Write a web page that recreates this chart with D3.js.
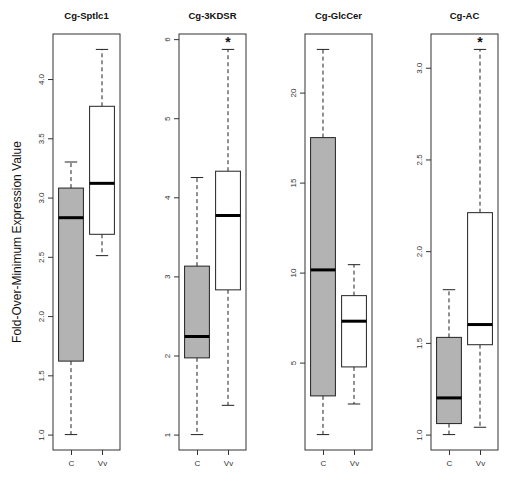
<!DOCTYPE html>
<html><head><meta charset="utf-8">
<script src="https://cdn.jsdelivr.net/npm/d3@7"></script>
<style>body{margin:0;background:#fff}</style></head>
<body>
<script>
// ---- data ----
const genes = ["Cg-Sptlc1", "Cg-3KDSR", "Cg-GlcCer", "Cg-AC"];
const groups = ["C", "Vv"];
// five-number summaries: [lower whisker, Q1, median, Q3, upper whisker]
const sptlc1C  = [1.00, 1.62, 2.83, 3.08, 3.30];
const sptlc1Vv = [2.51, 2.69, 3.12, 3.77, 4.25];
const kdsrC    = [1.00, 1.97, 2.24, 3.13, 4.25];
const kdsrVv   = [1.37, 2.83, 3.77, 4.33, 5.87];
const glcC     = [1.00, 3.15, 10.15, 17.5, 22.4];
const glcVv    = [2.70, 4.76, 7.30, 8.72, 10.44];
const acC      = [1.00, 1.06, 1.20, 1.53, 1.79];
const acVv     = [1.04, 1.49, 1.60, 2.21, 3.10];
const ticksSptlc1 = [1.0, 1.5, 2.0, 2.5, 3.0, 3.5, 4.0];
const ticksKdsr   = [1, 2, 3, 4, 5, 6];
const ticksGlc    = [5, 10, 15, 20];
const ticksAc     = [1.0, 1.5, 2.0, 2.5, 3.0];
const tickFormats = [".1f", "d", "d", ".1f"];
const significance = [["", ""], ["", "*"], ["", ""], ["", "*"]];
const yLabel = "Fold-Over-Minimum Expression Value";

const panels = [
  {gene: genes[0], stats: [sptlc1C, sptlc1Vv], ticks: ticksSptlc1},
  {gene: genes[1], stats: [kdsrC, kdsrVv], ticks: ticksKdsr},
  {gene: genes[2], stats: [glcC, glcVv], ticks: ticksGlc},
  {gene: genes[3], stats: [acC, acVv], ticks: ticksAc}
];

// ---- layout ----
const W = 514, H = 481;
const pTop = 34, pBottom = 450, pw = 67, pitch = 126, left0 = 53;
const fills = ["#b3b3b3", "#ffffff"];
const font = "Liberation Sans, Arial, sans-serif";

const svg = d3.select("body").append("svg").attr("width", W).attr("height", H)
  .style("font-family", font);

svg.append("text")
  .attr("transform", `translate(21,${(pTop + pBottom) / 2}) rotate(-90)`)
  .attr("text-anchor", "middle").attr("font-size", 12).attr("fill", "#111")
  .text(yLabel);

panels.forEach((p, i) => {
  const x0 = left0 + i * pitch;
  const lo = d3.min(p.stats, s => s[0]), hi = d3.max(p.stats, s => s[4]);
  const ext = (hi - lo) * 0.04;
  const y = d3.scaleLinear().domain([lo - ext, hi + ext]).range([pBottom, pTop]);
  const x = d3.scaleLinear().domain([0.5 - 0.08, 2.5 + 0.08]).range([x0, x0 + pw]);
  const g = svg.append("g");

  g.append("text").attr("x", x0 + pw / 2).attr("y", 19).attr("text-anchor", "middle")
    .attr("font-size", 9.5).attr("font-weight", "bold").attr("fill", "#111").text(p.gene);

  const yAxis = d3.axisLeft(y).tickValues(p.ticks).tickFormat(d3.format(tickFormats[i]))
    .tickSize(5).tickPadding(3);
  const ya = g.append("g").attr("transform", `translate(${x0},0)`).call(yAxis);
  ya.select(".domain").remove();
  ya.selectAll(".tick line").attr("stroke", "#333");
  ya.selectAll(".tick text").attr("font-size", 8).attr("fill", "#333")
    .attr("font-family", font)
    .attr("text-anchor", "middle").attr("dy", null).attr("x", null)
    .attr("transform", "translate(-12,0) rotate(-90)")
    .attr("dominant-baseline", "central");

  const xa = g.append("g").attr("transform", `translate(0,${pBottom})`)
    .call(d3.axisBottom(x).tickValues([1, 2]).tickFormat((d) => groups[d - 1]).tickSize(5).tickPadding(5));
  xa.select(".domain").remove();
  xa.selectAll(".tick line").attr("stroke", "#333");
  xa.selectAll(".tick text").attr("font-size", 8).attr("fill", "#333").attr("font-family", font);

  const half = (x(1.4) - x(1));
  const staple = half / 2;
  p.stats.forEach((s, j) => {
    const cx = x(j + 1);
    g.append("line").attr("x1", cx).attr("x2", cx).attr("y1", y(s[3])).attr("y2", y(s[4]))
      .attr("stroke", "#222").attr("stroke-dasharray", "4,3");
    g.append("line").attr("x1", cx).attr("x2", cx).attr("y1", y(s[1])).attr("y2", y(s[0]))
      .attr("stroke", "#222").attr("stroke-dasharray", "4,3");
    [s[0], s[4]].forEach(v => {
      g.append("line").attr("x1", cx - staple).attr("x2", cx + staple)
        .attr("y1", y(v)).attr("y2", y(v)).attr("stroke", "#222");
    });
    g.append("rect").attr("x", cx - half).attr("width", 2 * half)
      .attr("y", y(s[3])).attr("height", y(s[1]) - y(s[3]))
      .attr("fill", fills[j]).attr("stroke", "#222").attr("stroke-width", 1);
    g.append("line").attr("x1", cx - half).attr("x2", cx + half)
      .attr("y1", y(s[2])).attr("y2", y(s[2])).attr("stroke", "#000").attr("stroke-width", 3);
    if (significance[i][j]) {
      g.append("text").attr("x", cx).attr("y", y(s[4]) - 2).attr("text-anchor", "middle")
        .attr("font-size", 14).attr("font-weight", "bold").attr("fill", "#111")
        .text(significance[i][j]);
    }
  });

  g.append("rect").attr("x", x0).attr("y", pTop).attr("width", pw).attr("height", pBottom - pTop)
    .attr("fill", "none").attr("stroke", "#333").attr("stroke-width", 1);
});
</script>
</body></html>
